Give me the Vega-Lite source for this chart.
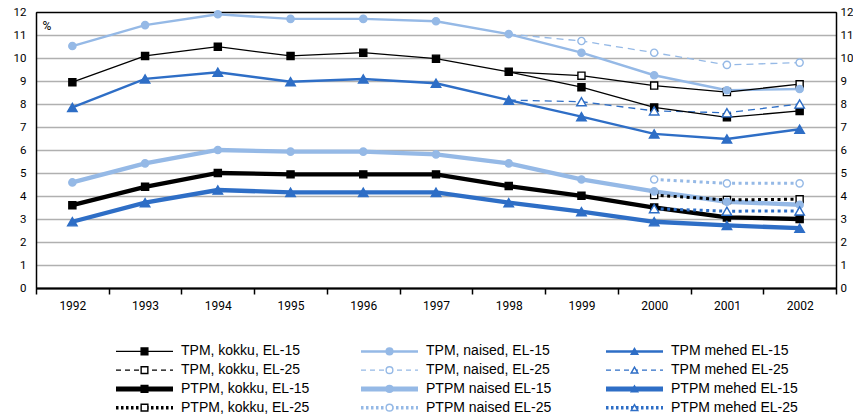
{
  "$schema": "https://vega.github.io/schema/vega-lite/v6.json",
  "autosize": {"type": "pad"},
  "padding": {"left": 12, "top": 5, "right": 0, "bottom": 0},
  "spacing": 30,
  "config": {
    "view": {"stroke": null},
    "font": "Roboto",
    "axis": {"labelColor": "#000000", "labelFont": "Roboto", "labelFontSize": 11.5}
  },
  "datasets": {
    "main": [
      {"series": "TPM, kokku, EL-15", "year": 1992, "value": 8.95},
      {"series": "TPM, kokku, EL-15", "year": 1993, "value": 10.09},
      {"series": "TPM, kokku, EL-15", "year": 1994, "value": 10.49},
      {"series": "TPM, kokku, EL-15", "year": 1995, "value": 10.09},
      {"series": "TPM, kokku, EL-15", "year": 1996, "value": 10.23},
      {"series": "TPM, kokku, EL-15", "year": 1997, "value": 9.97},
      {"series": "TPM, kokku, EL-15", "year": 1998, "value": 9.4},
      {"series": "TPM, kokku, EL-15", "year": 1999, "value": 8.73},
      {"series": "TPM, kokku, EL-15", "year": 2000, "value": 7.85},
      {"series": "TPM, kokku, EL-15", "year": 2001, "value": 7.42},
      {"series": "TPM, kokku, EL-15", "year": 2002, "value": 7.7},
      {"series": "TPM, kokku, EL-25", "year": 1998, "value": 9.4},
      {"series": "TPM, kokku, EL-25", "year": 1999, "value": 9.23},
      {"series": "TPM, kokku, EL-25", "year": 2000, "value": 8.8},
      {"series": "TPM, kokku, EL-25", "year": 2001, "value": 8.52},
      {"series": "TPM, kokku, EL-25", "year": 2002, "value": 8.86},
      {"series": "TPM, naised, EL-15", "year": 1992, "value": 10.52},
      {"series": "TPM, naised, EL-15", "year": 1993, "value": 11.43},
      {"series": "TPM, naised, EL-15", "year": 1994, "value": 11.9},
      {"series": "TPM, naised, EL-15", "year": 1995, "value": 11.7},
      {"series": "TPM, naised, EL-15", "year": 1996, "value": 11.7},
      {"series": "TPM, naised, EL-15", "year": 1997, "value": 11.6},
      {"series": "TPM, naised, EL-15", "year": 1998, "value": 11.04},
      {"series": "TPM, naised, EL-15", "year": 1999, "value": 10.23},
      {"series": "TPM, naised, EL-15", "year": 2000, "value": 9.25},
      {"series": "TPM, naised, EL-15", "year": 2001, "value": 8.6},
      {"series": "TPM, naised, EL-15", "year": 2002, "value": 8.65},
      {"series": "TPM, naised, EL-25", "year": 1998, "value": 11.04},
      {"series": "TPM, naised, EL-25", "year": 1999, "value": 10.74},
      {"series": "TPM, naised, EL-25", "year": 2000, "value": 10.23},
      {"series": "TPM, naised, EL-25", "year": 2001, "value": 9.7},
      {"series": "TPM, naised, EL-25", "year": 2002, "value": 9.8},
      {"series": "TPM mehed EL-15", "year": 1992, "value": 7.85},
      {"series": "TPM mehed EL-15", "year": 1993, "value": 9.09},
      {"series": "TPM mehed EL-15", "year": 1994, "value": 9.38},
      {"series": "TPM mehed EL-15", "year": 1995, "value": 8.97},
      {"series": "TPM mehed EL-15", "year": 1996, "value": 9.09},
      {"series": "TPM mehed EL-15", "year": 1997, "value": 8.9},
      {"series": "TPM mehed EL-15", "year": 1998, "value": 8.17},
      {"series": "TPM mehed EL-15", "year": 1999, "value": 7.45},
      {"series": "TPM mehed EL-15", "year": 2000, "value": 6.7},
      {"series": "TPM mehed EL-15", "year": 2001, "value": 6.48},
      {"series": "TPM mehed EL-15", "year": 2002, "value": 6.9},
      {"series": "TPM mehed EL-25", "year": 1998, "value": 8.17},
      {"series": "TPM mehed EL-25", "year": 1999, "value": 8.1},
      {"series": "TPM mehed EL-25", "year": 2000, "value": 7.7},
      {"series": "TPM mehed EL-25", "year": 2001, "value": 7.62},
      {"series": "TPM mehed EL-25", "year": 2002, "value": 8.0},
      {"series": "PTPM, kokku, EL-15", "year": 1992, "value": 3.6},
      {"series": "PTPM, kokku, EL-15", "year": 1993, "value": 4.4},
      {"series": "PTPM, kokku, EL-15", "year": 1994, "value": 5.0},
      {"series": "PTPM, kokku, EL-15", "year": 1995, "value": 4.94},
      {"series": "PTPM, kokku, EL-15", "year": 1996, "value": 4.94},
      {"series": "PTPM, kokku, EL-15", "year": 1997, "value": 4.94},
      {"series": "PTPM, kokku, EL-15", "year": 1998, "value": 4.43},
      {"series": "PTPM, kokku, EL-15", "year": 1999, "value": 4.01},
      {"series": "PTPM, kokku, EL-15", "year": 2000, "value": 3.5},
      {"series": "PTPM, kokku, EL-15", "year": 2001, "value": 3.07},
      {"series": "PTPM, kokku, EL-15", "year": 2002, "value": 3.0},
      {"series": "PTPM, kokku, EL-25", "year": 2000, "value": 4.04},
      {"series": "PTPM, kokku, EL-25", "year": 2001, "value": 3.83},
      {"series": "PTPM, kokku, EL-25", "year": 2002, "value": 3.86},
      {"series": "PTPM naised EL-15", "year": 1992, "value": 4.59},
      {"series": "PTPM naised EL-15", "year": 1993, "value": 5.42},
      {"series": "PTPM naised EL-15", "year": 1994, "value": 6.0},
      {"series": "PTPM naised EL-15", "year": 1995, "value": 5.93},
      {"series": "PTPM naised EL-15", "year": 1996, "value": 5.93},
      {"series": "PTPM naised EL-15", "year": 1997, "value": 5.81},
      {"series": "PTPM naised EL-15", "year": 1998, "value": 5.42},
      {"series": "PTPM naised EL-15", "year": 1999, "value": 4.72},
      {"series": "PTPM naised EL-15", "year": 2000, "value": 4.2},
      {"series": "PTPM naised EL-15", "year": 2001, "value": 3.75},
      {"series": "PTPM naised EL-15", "year": 2002, "value": 3.62},
      {"series": "PTPM naised EL-25", "year": 2000, "value": 4.72},
      {"series": "PTPM naised EL-25", "year": 2001, "value": 4.55},
      {"series": "PTPM naised EL-25", "year": 2002, "value": 4.55},
      {"series": "PTPM mehed EL-15", "year": 1992, "value": 2.88},
      {"series": "PTPM mehed EL-15", "year": 1993, "value": 3.71},
      {"series": "PTPM mehed EL-15", "year": 1994, "value": 4.26},
      {"series": "PTPM mehed EL-15", "year": 1995, "value": 4.16},
      {"series": "PTPM mehed EL-15", "year": 1996, "value": 4.16},
      {"series": "PTPM mehed EL-15", "year": 1997, "value": 4.16},
      {"series": "PTPM mehed EL-15", "year": 1998, "value": 3.71},
      {"series": "PTPM mehed EL-15", "year": 1999, "value": 3.32},
      {"series": "PTPM mehed EL-15", "year": 2000, "value": 2.88},
      {"series": "PTPM mehed EL-15", "year": 2001, "value": 2.72},
      {"series": "PTPM mehed EL-15", "year": 2002, "value": 2.6},
      {"series": "PTPM mehed EL-25", "year": 2000, "value": 3.45},
      {"series": "PTPM mehed EL-25", "year": 2001, "value": 3.34},
      {"series": "PTPM mehed EL-25", "year": 2002, "value": 3.35}
    ],
    "legend": [
      {"series": "TPM, kokku, EL-15", "group": "kokku", "kind": "TPM EL-15"},
      {"series": "TPM, kokku, EL-25", "group": "kokku", "kind": "TPM EL-25"},
      {"series": "PTPM, kokku, EL-15", "group": "kokku", "kind": "PTPM EL-15"},
      {"series": "PTPM, kokku, EL-25", "group": "kokku", "kind": "PTPM EL-25"},
      {"series": "TPM, naised, EL-15", "group": "naised", "kind": "TPM EL-15"},
      {"series": "TPM, naised, EL-25", "group": "naised", "kind": "TPM EL-25"},
      {"series": "PTPM naised EL-15", "group": "naised", "kind": "PTPM EL-15"},
      {"series": "PTPM naised EL-25", "group": "naised", "kind": "PTPM EL-25"},
      {"series": "TPM mehed EL-15", "group": "mehed", "kind": "TPM EL-15"},
      {"series": "TPM mehed EL-25", "group": "mehed", "kind": "TPM EL-25"},
      {"series": "PTPM mehed EL-15", "group": "mehed", "kind": "PTPM EL-15"},
      {"series": "PTPM mehed EL-25", "group": "mehed", "kind": "PTPM EL-25"}
    ]
  },
  "vconcat": [
    {
      "width": 800,
      "height": 276,
      "view": {"stroke": "#000000", "strokeWidth": 1},
      "data": {"name": "main"},
      "encoding": {
        "x": {
          "field": "year",
          "type": "ordinal",
          "scale": {"paddingInner": 0, "paddingOuter": 0},
          "axis": {
            "title": null,
            "labelAngle": 0,
            "tickBand": "extent",
            "domainColor": "#000000",
            "domainWidth": 2,
            "tickColor": "#000000",
            "tickSize": 6,
            "tickWidth": 1.5,
            "labelPadding": 6,
            "labelFontSize": 12,
            "grid": false
          }
        },
        "y": {
          "field": "value",
          "type": "quantitative",
          "scale": {"domain": [0, 12], "nice": false},
          "axis": null
        },
        "stroke": {
          "field": "series",
          "type": "nominal",
          "legend": null,
          "scale": {
            "domain": ["TPM, kokku, EL-15", "TPM, kokku, EL-25", "PTPM, kokku, EL-15", "PTPM, kokku, EL-25", "TPM, naised, EL-15", "TPM, naised, EL-25", "PTPM naised EL-15", "PTPM naised EL-25", "TPM mehed EL-15", "TPM mehed EL-25", "PTPM mehed EL-15", "PTPM mehed EL-25"],
            "range": ["#000000", "#000000", "#000000", "#000000", "#95b9e6", "#95b9e6", "#95b9e6", "#95b9e6", "#2e6ec6", "#2e6ec6", "#2e6ec6", "#2e6ec6"]
          }
        },
        "fill": {
          "field": "series",
          "type": "nominal",
          "legend": null,
          "scale": {
            "domain": ["TPM, kokku, EL-15", "TPM, kokku, EL-25", "PTPM, kokku, EL-15", "PTPM, kokku, EL-25", "TPM, naised, EL-15", "TPM, naised, EL-25", "PTPM naised EL-15", "PTPM naised EL-25", "TPM mehed EL-15", "TPM mehed EL-25", "PTPM mehed EL-15", "PTPM mehed EL-25"],
            "range": ["#000000", "#ffffff", "#000000", "#ffffff", "#95b9e6", "#ffffff", "#95b9e6", "#ffffff", "#2e6ec6", "#ffffff", "#2e6ec6", "#ffffff"]
          }
        }
      },
      "layer": [
        {
          "transform": [{"filter": {"field": "series", "oneOf": ["PTPM, kokku, EL-15", "PTPM naised EL-15", "PTPM mehed EL-15"]}}],
          "mark": {"type": "line", "opacity": 1, "strokeWidth": 4.3},
          "encoding": {
            "fill": null,
            "y": {
              "field": "value",
              "type": "quantitative",
              "axis": {
                "orient": "left",
                "values": [0, 1, 2, 3, 4, 5, 6, 7, 8, 9, 10, 11, 12],
                "title": "%",
                "titleAngle": 0,
                "titleX": 6,
                "titleY": 17,
                "titleAlign": "left",
                "titleBaseline": "alphabetic",
                "titleFontWeight": "normal",
                "titleFont": "Roboto",
                "titleFontSize": 12,
                "titleColor": "#000000",
                "ticks": false,
                "labelPadding": 10,
                "domainColor": "#000000",
                "domainWidth": 1.5,
                "grid": true,
                "gridColor": {"condition": {"test": "datum.value == 0 || datum.value == 12", "value": "#000000"}, "value": "#b0b0b0"},
                "gridWidth": 1.5
              }
            }
          }
        },
        {
          "transform": [{"filter": {"field": "series", "oneOf": ["PTPM, kokku, EL-25", "PTPM naised EL-25", "PTPM mehed EL-25"]}}],
          "mark": {"type": "line", "opacity": 1, "strokeWidth": 3, "strokeDash": [3, 3.5]},
          "encoding": {"fill": null}
        },
        {
          "transform": [{"filter": {"field": "series", "oneOf": ["TPM, naised, EL-15", "TPM mehed EL-15"]}}],
          "mark": {"type": "line", "opacity": 1, "strokeWidth": 2.4},
          "encoding": {"fill": null}
        },
        {
          "transform": [{"filter": {"field": "series", "oneOf": ["TPM, naised, EL-25", "TPM mehed EL-25"]}}],
          "mark": {"type": "line", "opacity": 1, "strokeWidth": 1.3, "strokeDash": [7, 5]},
          "encoding": {"fill": null}
        },
        {
          "transform": [{"filter": {"field": "series", "oneOf": ["TPM, kokku, EL-15", "TPM, kokku, EL-25"]}}],
          "mark": {"type": "line", "opacity": 1, "strokeWidth": 1.3},
          "encoding": {"fill": null}
        },
        {
          "transform": [{"filter": "indexof(datum.series, 'kokku') >= 0 && !(datum.year == 1998 && indexof(datum.series, 'EL-25') >= 0)"}],
          "mark": {"type": "point", "shape": "square", "size": 50, "opacity": 1, "fillOpacity": 1, "strokeWidth": 1.4},
          "encoding": {
            "y": {
              "field": "value",
              "type": "quantitative",
              "axis": {
                "orient": "right",
                "values": [0, 1, 2, 3, 4, 5, 6, 7, 8, 9, 10, 11, 12],
                "title": null,
                "ticks": false,
                "labelPadding": 4,
                "domainColor": "#000000",
                "domainWidth": 1.5,
                "grid": false
              }
            }
          }
        },
        {
          "transform": [{"filter": "indexof(datum.series, 'naised') >= 0 && !(datum.year == 1998 && indexof(datum.series, 'EL-25') >= 0)"}],
          "mark": {"type": "point", "shape": "circle", "size": 52, "opacity": 1, "fillOpacity": 1, "strokeWidth": 1.4}
        },
        {
          "transform": [{"filter": "indexof(datum.series, 'mehed') >= 0 && !(datum.year == 1998 && indexof(datum.series, 'EL-25') >= 0)"}],
          "mark": {"type": "point", "shape": "triangle-up", "size": 90, "opacity": 1, "fillOpacity": 1, "strokeWidth": 1.4}
        }
      ],
      "resolve": {"axis": {"y": "independent"}}
    },
    {
      "width": 735,
      "height": 75,
      "view": {"stroke": null},
      "data": {"name": "legend"},
      "encoding": {
        "x": {
          "field": "group",
          "type": "nominal",
          "scale": {"domain": ["kokku", "naised", "mehed"], "paddingInner": 0, "paddingOuter": 0},
          "axis": null
        },
        "y": {
          "field": "kind",
          "type": "nominal",
          "scale": {"domain": ["TPM EL-15", "TPM EL-25", "PTPM EL-15", "PTPM EL-25"], "paddingInner": 0, "paddingOuter": 0},
          "axis": null
        },
        "stroke": {
          "field": "series",
          "type": "nominal",
          "legend": null,
          "scale": {
            "domain": ["TPM, kokku, EL-15", "TPM, kokku, EL-25", "PTPM, kokku, EL-15", "PTPM, kokku, EL-25", "TPM, naised, EL-15", "TPM, naised, EL-25", "PTPM naised EL-15", "PTPM naised EL-25", "TPM mehed EL-15", "TPM mehed EL-25", "PTPM mehed EL-15", "PTPM mehed EL-25"],
            "range": ["#000000", "#000000", "#000000", "#000000", "#95b9e6", "#95b9e6", "#95b9e6", "#95b9e6", "#2e6ec6", "#2e6ec6", "#2e6ec6", "#2e6ec6"]
          }
        }
      },
      "layer": [
        {
          "transform": [{"filter": {"field": "series", "oneOf": ["TPM, kokku, EL-15"]}}],
          "mark": {"type": "point", "shape": "M-1,0H1", "size": 3249, "xOffset": -14, "filled": false, "opacity": 1, "strokeWidth": 1.3}
        },
        {
          "transform": [{"filter": {"field": "series", "oneOf": ["TPM, naised, EL-15", "TPM mehed EL-15"]}}],
          "mark": {"type": "point", "shape": "M-1,0H1", "size": 3249, "xOffset": -14, "filled": false, "opacity": 1, "strokeWidth": 2.5}
        },
        {
          "transform": [{"filter": {"field": "series", "oneOf": ["TPM, kokku, EL-25", "TPM, naised, EL-25", "TPM mehed EL-25"]}}],
          "mark": {"type": "point", "shape": "M-1,0H1", "size": 3249, "xOffset": -14, "filled": false, "opacity": 1, "strokeWidth": 1.3, "strokeDash": [5, 4]}
        },
        {
          "transform": [{"filter": {"field": "series", "oneOf": ["PTPM, kokku, EL-15", "PTPM naised EL-15", "PTPM mehed EL-15"]}}],
          "mark": {"type": "point", "shape": "M-1,0H1", "size": 3249, "xOffset": -14, "filled": false, "opacity": 1, "strokeWidth": 5}
        },
        {
          "transform": [{"filter": {"field": "series", "oneOf": ["PTPM, kokku, EL-25", "PTPM naised EL-25", "PTPM mehed EL-25"]}}],
          "mark": {"type": "point", "shape": "M-1,0H1", "size": 3249, "xOffset": -14, "filled": false, "opacity": 1, "strokeWidth": 3.5, "strokeDash": [2.5, 2.5]}
        },
        {
          "mark": {"type": "point", "size": 45, "xOffset": -14, "opacity": 1, "fillOpacity": 1, "strokeWidth": 1.4},
          "encoding": {
            "shape": {
              "field": "group",
              "type": "nominal",
              "legend": null,
              "scale": {"domain": ["kokku", "naised", "mehed"], "range": ["square", "circle", "triangle-up"]}
            },
            "fill": {
              "field": "series",
              "type": "nominal",
              "legend": null,
              "scale": {
                "domain": ["TPM, kokku, EL-15", "TPM, kokku, EL-25", "PTPM, kokku, EL-15", "PTPM, kokku, EL-25", "TPM, naised, EL-15", "TPM, naised, EL-25", "PTPM naised EL-15", "PTPM naised EL-25", "TPM mehed EL-15", "TPM mehed EL-25", "PTPM mehed EL-15", "PTPM mehed EL-25"],
                "range": ["#000000", "#ffffff", "#000000", "#ffffff", "#95b9e6", "#ffffff", "#95b9e6", "#ffffff", "#2e6ec6", "#ffffff", "#2e6ec6", "#ffffff"]
              }
            }
          }
        },
        {
          "mark": {"type": "text", "align": "left", "baseline": "middle", "xOffset": 22.5, "font": "Liberation Sans", "fontSize": 14, "color": "#000000"},
          "encoding": {
            "text": {"field": "series", "type": "nominal"},
            "stroke": null
          }
        }
      ]
    }
  ],
  "resolve": {
    "scale": {"stroke": "independent", "fill": "independent", "shape": "independent"}
  }
}
